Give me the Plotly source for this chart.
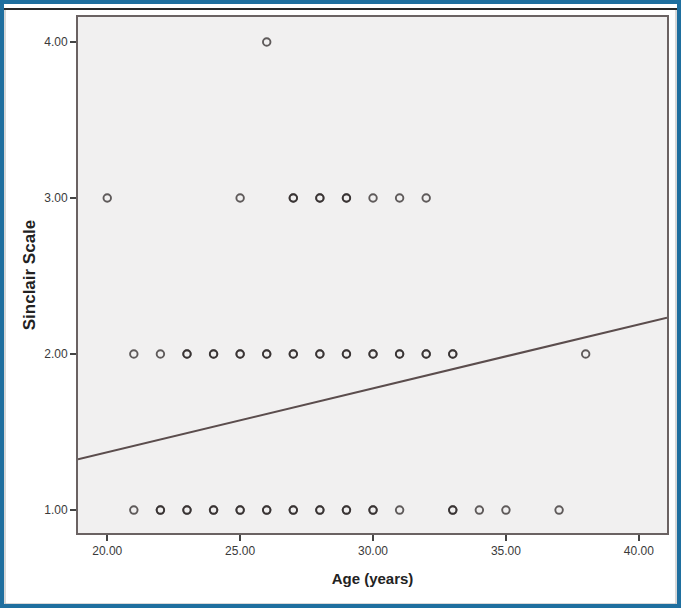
import plotly.graph_objects as go

# Data (duplicates mark overplotted, darker points)
age_y4 = [26]
age_y3 = [20, 25, 27, 27, 28, 28, 29, 29, 30, 31, 32]
age_y2 = [21, 22, 23, 23, 24, 24, 25, 25, 26, 26, 27, 27, 28, 28, 29, 29,
          30, 30, 31, 31, 32, 32, 33, 33, 38]
age_y1 = [21, 22, 22, 23, 23, 24, 24, 25, 25, 26, 26, 27, 27, 28, 28, 29, 29,
          30, 30, 31, 33, 33, 34, 35, 37]

fit_intercept = 0.55
fit_slope = 0.041

x_range = [18.9, 41.06]
y_range = [0.853, 4.16]
x_ticks = [20, 25, 30, 35, 40]
y_ticks = [1, 2, 3, 4]

xs = age_y4 + age_y3 + age_y2 + age_y1
ys = [4] * len(age_y4) + [3] * len(age_y3) + [2] * len(age_y2) + [1] * len(age_y1)

fig = go.Figure()
fig.add_trace(go.Scatter(
    x=x_range, y=[fit_intercept + fit_slope * v for v in x_range],
    mode="lines", line=dict(color="#5b4d4d", width=2), hoverinfo="skip",
    cliponaxis=True))
fig.add_trace(go.Scatter(
    x=xs, y=ys, mode="markers",
    marker=dict(symbol="circle-open", size=7.5, color="rgba(45,40,40,0.75)",
                line=dict(width=1.9))))

W, H = 681, 608
L, R, T, B = 78, 14, 17, 75
pw, ph = W - L - R, H - T - B


def px(x):
    return (x - L) / pw


def py(y):
    return (H - B - y) / ph


shapes = [
    dict(type="rect", xref="paper", yref="paper", x0=px(5), x1=px(676), y0=py(9), y1=py(604),
         line=dict(color="#b0b0b0", width=1), layer="below"),
    dict(type="line", xref="paper", yref="paper", x0=px(4), x1=px(677), y0=py(9), y1=py(9),
         line=dict(color="#2a2a2a", width=2)),
    dict(type="rect", xref="paper", yref="paper", x0=px(0), x1=px(681), y0=py(0), y1=py(608),
         line=dict(color="#1f6f9f", width=8)),
]

axis_common = dict(showgrid=False, zeroline=False, showline=True, linecolor="#6a6262",
                   linewidth=2, mirror=True, ticks="outside", ticklen=6, tickwidth=1.5,
                   tickcolor="#444", tickfont=dict(family="Liberation Sans Narrow, Arial Narrow, Arial",
                                                   size=12, color="#3a3a3a"),
                   tickformat=".2f")

fig.update_layout(
    width=W, height=H, margin=dict(l=L, r=R, t=T, b=B),
    paper_bgcolor="white", plot_bgcolor="#f1f0f0", showlegend=False,
    shapes=shapes,
    xaxis=dict(range=x_range, tickvals=x_ticks,
               title=dict(text="<b>Age (years)</b>", font=dict(family="Arial", size=15, color="#222"),
                          standoff=16),
               **axis_common),
    yaxis=dict(range=y_range, tickvals=y_ticks,
               title=dict(text="<b>Sinclair Scale</b>", font=dict(family="Arial", size=17, color="#222"),
                          standoff=4),
               **axis_common),
)

fig.write_html("out.html", config={"displayModeBar": False},
               post_script="document.body.style.margin='0';document.body.style.overflow='hidden';")
